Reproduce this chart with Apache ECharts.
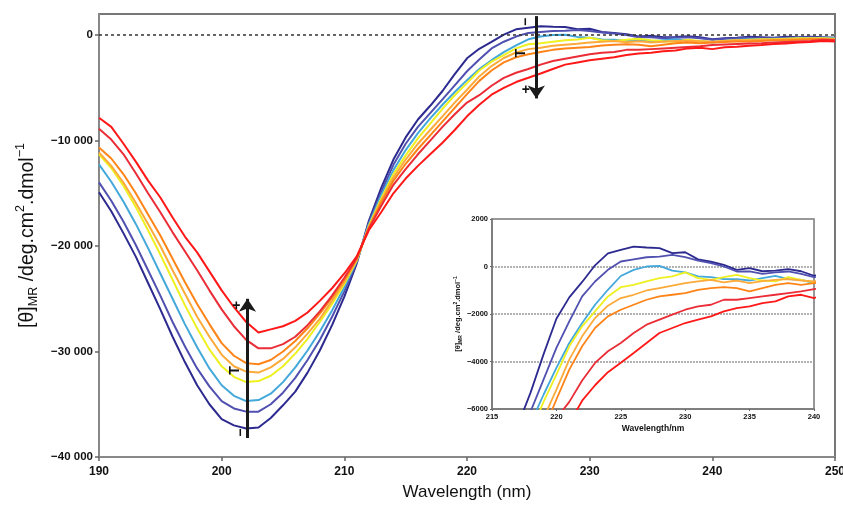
<!DOCTYPE html>
<html><head><meta charset="utf-8">
<script src="https://cdn.jsdelivr.net/npm/echarts@6/dist/echarts.min.js"></script>
<style>html,body{margin:0;padding:0;background:#fff}#c{width:843px;height:506px}</style>
</head><body><div id="c"></div><script>
const wavelengths = [190,191,192,193,194,195,196,197,198,199,200,201,202,203,204,205,206,207,208,209,210,211,212,213,214,215,216,217,218,219,220,221,222,223,224,225,226,227,228,229,230,231,232,233,234,235,236,237,238,239,240,241,242,243,244,245,246,247,248,249,250];

const curve1 = [-14900,-16700,-18800,-21000,-23500,-26000,-28600,-31000,-33200,-35000,
 -36400,-37000,-37300,-37200,-36300,-35100,-33800,-32000,-29900,-27500,
 -24800,-21700,-17600,-14500,-11800,-9700,-8000,-6700,-5300,-3700,
 -2200,-1300,-650,50,550,700,840,800,770,560,
 600,300,200,70,-140,-70,-200,-170,-110,-200,
 -390,-300,-250,-150,-200,-250,-150,-200,-150,-200,-250];
const curve2 = [-13960,-15700,-17700,-19900,-22300,-24700,-27200,-29500,-31600,-33300,
 -34700,-35400,-35700,-35700,-35000,-33900,-32500,-30800,-28900,-26700,
 -24300,-21550,-17800,-14900,-12300,-10300,-8700,-7400,-6100,-4760,
 -3430,-2310,-1260,-630,-140,210,300,390,420,490,
 390,250,140,0,-210,-210,-310,-250,-210,-310,
 -450,-350,-300,-250,-300,-300,-250,-250,-200,-250,-300];
const curve3 = [-12260,-13900,-15800,-17900,-20200,-22600,-25000,-27400,-29600,-31600,
 -33200,-34200,-34700,-34600,-34000,-32900,-31500,-29900,-28100,-26100,
 -23900,-21450,-17950,-15200,-12800,-10900,-9300,-7900,-6600,-5400,
 -4270,-3220,-2380,-1610,-980,-400,-140,0,30,-170,
 -250,-420,-450,-530,-530,-590,-490,-390,-530,-560,
 -700,-550,-450,-400,-400,-350,-350,-300,-300,-250,-300];
const curve4 = [-11300,-12600,-14300,-16300,-18500,-20800,-23200,-25600,-27800,-29800,
 -31400,-32400,-32900,-32800,-32300,-31400,-30200,-28800,-27200,-25500,
 -23600,-21400,-18100,-15500,-13200,-11400,-9800,-8400,-7000,-5700,
 -4550,-3360,-2520,-1890,-1260,-870,-770,-630,-490,-420,
 -250,-490,-560,-450,-350,-490,-590,-630,-450,-560,
 -670,-550,-500,-450,-400,-400,-350,-300,-300,-300,-350];
const curve5 = [-11130,-12400,-14000,-15900,-17900,-20000,-22300,-24500,-26700,-28600,
 -30300,-31400,-31900,-32000,-31500,-30700,-29600,-28300,-26900,-25200,
 -23400,-21300,-18200,-15700,-13500,-11800,-10300,-9000,-7700,-6400,
 -5180,-3920,-2940,-2170,-1650,-1330,-1190,-1010,-910,-810,
 -700,-630,-560,-670,-590,-700,-620,-560,-530,-590,
 -630,-550,-500,-500,-450,-450,-400,-400,-350,-350,-400];
const curve6 = [-10660,-11700,-13200,-15000,-17000,-19000,-21200,-23400,-25500,-27400,
 -29200,-30400,-31100,-31200,-30800,-30000,-29000,-27800,-26400,-24900,
 -23200,-21250,-18250,-15900,-13800,-12200,-10800,-9500,-8200,-6900,
 -5600,-4340,-3360,-2590,-2100,-1820,-1610,-1400,-1260,-1190,
 -1120,-980,-910,-870,-910,-1050,-910,-770,-700,-770,
 -700,-650,-600,-600,-550,-500,-500,-450,-400,-400,-450];
const curve7 = [-8870,-9900,-11300,-13100,-15000,-16800,-18700,-20500,-22300,-24200,
 -26000,-27600,-28900,-29700,-29700,-29300,-28600,-27500,-26200,-24700,
 -23000,-21150,-18350,-16200,-14200,-12700,-11300,-10000,-8700,-7500,
 -6400,-5700,-4800,-4060,-3570,-3220,-2800,-2450,-2240,-2030,
 -1820,-1680,-1610,-1400,-1400,-1330,-1260,-1190,-1120,-1050,
 -950,-900,-850,-800,-780,-700,-650,-600,-550,-450,-500];
const curve8 = [-7830,-8700,-10300,-12000,-13800,-15400,-17300,-19100,-20600,-22400,
 -24200,-25800,-27200,-28200,-27900,-27600,-27100,-26300,-25200,-24000,
 -22600,-21000,-18500,-16800,-15000,-13600,-12400,-11300,-10200,-9000,
 -7700,-6600,-5650,-5000,-4450,-4050,-3640,-3220,-2800,-2590,
 -2380,-2240,-2100,-1890,-1750,-1680,-1540,-1470,-1260,-1190,
 -1330,-1150,-1100,-1000,-950,-850,-800,-700,-650,-550,-600];

const curves = [curve1,curve2,curve3,curve4,curve5,curve6,curve7,curve8];
const colors = ['#2c2a8f','#5050b0','#43a8da','#eef020','#fcab3a','#ff8418','#ea2d36','#ff1818'];

const FONT = 'Liberation Sans, Arial, Helvetica, sans-serif';
function pairs(vals){ return wavelengths.map((w,i)=>[w, vals[i]]); }
function fmtMain(v){ if(v===0) return '0'; if(v>0) return ''; const s=String(Math.abs(v)); return '\u2212'+s.slice(0,s.length-3)+' '+s.slice(-3); }
function fmtInset(v){ return v<0 ? '\u2212'+Math.abs(v) : String(v); }

const series = [];
curves.forEach((c,i)=>{
  series.push({type:'line', xAxisIndex:0, yAxisIndex:0, data:pairs(c), showSymbol:false, symbol:'none',
    lineStyle:{width:2, color:colors[i]}, itemStyle:{color:colors[i]}, z:2, silent:true});
});
curves.forEach((c,i)=>{
  series.push({type:'line', xAxisIndex:1, yAxisIndex:1, data:pairs(c), showSymbol:false, symbol:'none',
    lineStyle:{width:1.8, color:colors[i]}, itemStyle:{color:colors[i]}, z:6, silent:true});
});
const lblStyle = {show:true, position:'inside', color:'#111', fontSize:14, fontWeight:'bold', fontFamily:FONT};
series.push({type:'line', xAxisIndex:0, yAxisIndex:0, data:[], z:5, silent:true,
  markLine:{silent:true, symbol:'none', animation:false, label:{show:false},
    data:[
      {yAxis:0, lineStyle:{type:[3,3], color:'#333', width:1.5}},
      [{coord:[202.1,-38200], symbol:'none', lineStyle:{color:'#1a1a1a', width:3, type:'solid'}},
       {coord:[202.1,-25000], symbol:'arrow', symbolSize:13}],
      [{coord:[225.65,1800], symbol:'none', lineStyle:{color:'#1a1a1a', width:3, type:'solid'}},
       {coord:[225.65,-6000], symbol:'arrow', symbolSize:13}]
    ]},
  markPoint:{silent:true, symbol:'circle', symbolSize:0, animation:false,
    data:[
      {coord:[201.2,-25700], label:Object.assign({}, lblStyle, {formatter:'+'})},
      {coord:[201.1,-31800], label:Object.assign({}, lblStyle, {formatter:'T', rotate:90})},
      {coord:[201.6,-37700], label:Object.assign({}, lblStyle, {formatter:'\u2212', rotate:90})},
      {coord:[224.8,1250], label:Object.assign({}, lblStyle, {formatter:'\u2212', rotate:90})},
      {coord:[224.4,-1730], label:Object.assign({}, lblStyle, {formatter:'T', rotate:90})},
      {coord:[224.8,-5190], label:Object.assign({}, lblStyle, {formatter:'+'})}
    ]}
});

const option = {
  animation:false,
  textStyle:{fontFamily:FONT},
  grid:[
    {left:99, right:8, top:14, bottom:49, show:true, borderColor:'#777', borderWidth:2, backgroundColor:'transparent', z:0, containLabel:false, outerBoundsMode:'none'},
    {left:492, top:219, width:322, height:190, show:true, borderColor:'#777', borderWidth:1.5, backgroundColor:'#fff', z:4, containLabel:false, outerBoundsMode:'none'}
  ],
  xAxis:[
    {type:'value', gridIndex:0, min:190, max:250, interval:10,
     axisLine:{show:true, onZero:false, lineStyle:{color:'#888', width:2}},
     axisTick:{show:true, length:4, lineStyle:{color:'#666', width:1.5}},
     axisLabel:{fontSize:12, fontWeight:'bold', color:'#111', margin:9, fontFamily:FONT},
     splitLine:{show:false},
     name:'Wavelength (nm)', nameLocation:'middle', nameGap:27,
     nameTextStyle:{fontSize:17, color:'#111', fontFamily:FONT}},
    {type:'value', gridIndex:1, min:215, max:240, interval:5, z:6,
     axisLine:{show:true, onZero:false, lineStyle:{color:'#777', width:1.5}},
     axisTick:{show:true, length:2, lineStyle:{color:'#666'}},
     axisLabel:{fontSize:7.5, fontWeight:'bold', color:'#111', margin:4, fontFamily:FONT},
     splitLine:{show:false},
     name:'Wavelength/nm', nameLocation:'middle', nameGap:15,
     nameTextStyle:{fontSize:8.5, fontWeight:'bold', color:'#111', fontFamily:FONT}}
  ],
  yAxis:[
    {type:'value', gridIndex:0, min:-40000, max:2000, interval:10000,
     axisLine:{show:true, onZero:false, lineStyle:{color:'#888', width:2}},
     axisTick:{show:true, length:4, lineStyle:{color:'#666', width:1.5}},
     axisLabel:{fontSize:11.5, fontWeight:'bold', color:'#111', margin:6, formatter:fmtMain, showMaxLabel:false, fontFamily:FONT},
     splitLine:{show:false},
     name:'{a|[\u03b8]}{sub|MR}{a| /deg.cm}{sup|2}{a|.dmol}{sup|\u22121}',
     nameLocation:'middle', nameGap:58, nameRotate:90,
     nameTextStyle:{fontFamily:FONT, color:'#111', rich:{
       a:{fontSize:19.5, lineHeight:26, color:'#111', fontFamily:FONT},
       sub:{fontSize:12.5, lineHeight:13, verticalAlign:'bottom', color:'#111', fontFamily:FONT},
       sup:{fontSize:12.5, lineHeight:13, verticalAlign:'top', color:'#111', fontFamily:FONT}}}},
    {type:'value', gridIndex:1, min:-6000, max:2000, interval:2000, z:6,
     axisLine:{show:true, onZero:false, lineStyle:{color:'#777', width:1.5}},
     axisTick:{show:true, length:2, lineStyle:{color:'#666'}},
     axisLabel:{fontSize:7.5, fontWeight:'bold', color:'#111', margin:4, formatter:fmtInset, fontFamily:FONT},
     splitLine:{show:true, lineStyle:{type:[2,1], color:'#999', width:1.5}},
     name:'{a|[\u03b8]}{sub|MR}{a| /deg.cm}{sup|2}{a|.dmol}{sup|\u22121}',
     nameLocation:'middle', nameGap:28, nameRotate:90,
     nameTextStyle:{fontFamily:FONT, color:'#111', rich:{
       a:{fontSize:7.5, fontWeight:'bold', lineHeight:10, color:'#111', fontFamily:FONT},
       sub:{fontSize:5, fontWeight:'bold', lineHeight:5, verticalAlign:'bottom', color:'#111', fontFamily:FONT},
       sup:{fontSize:5, fontWeight:'bold', lineHeight:5, verticalAlign:'top', color:'#111', fontFamily:FONT}}}}
  ],
  series: series
};
const chart = echarts.init(document.getElementById('c'), null, {renderer:'canvas'});
chart.setOption(option);
</script></body></html>
